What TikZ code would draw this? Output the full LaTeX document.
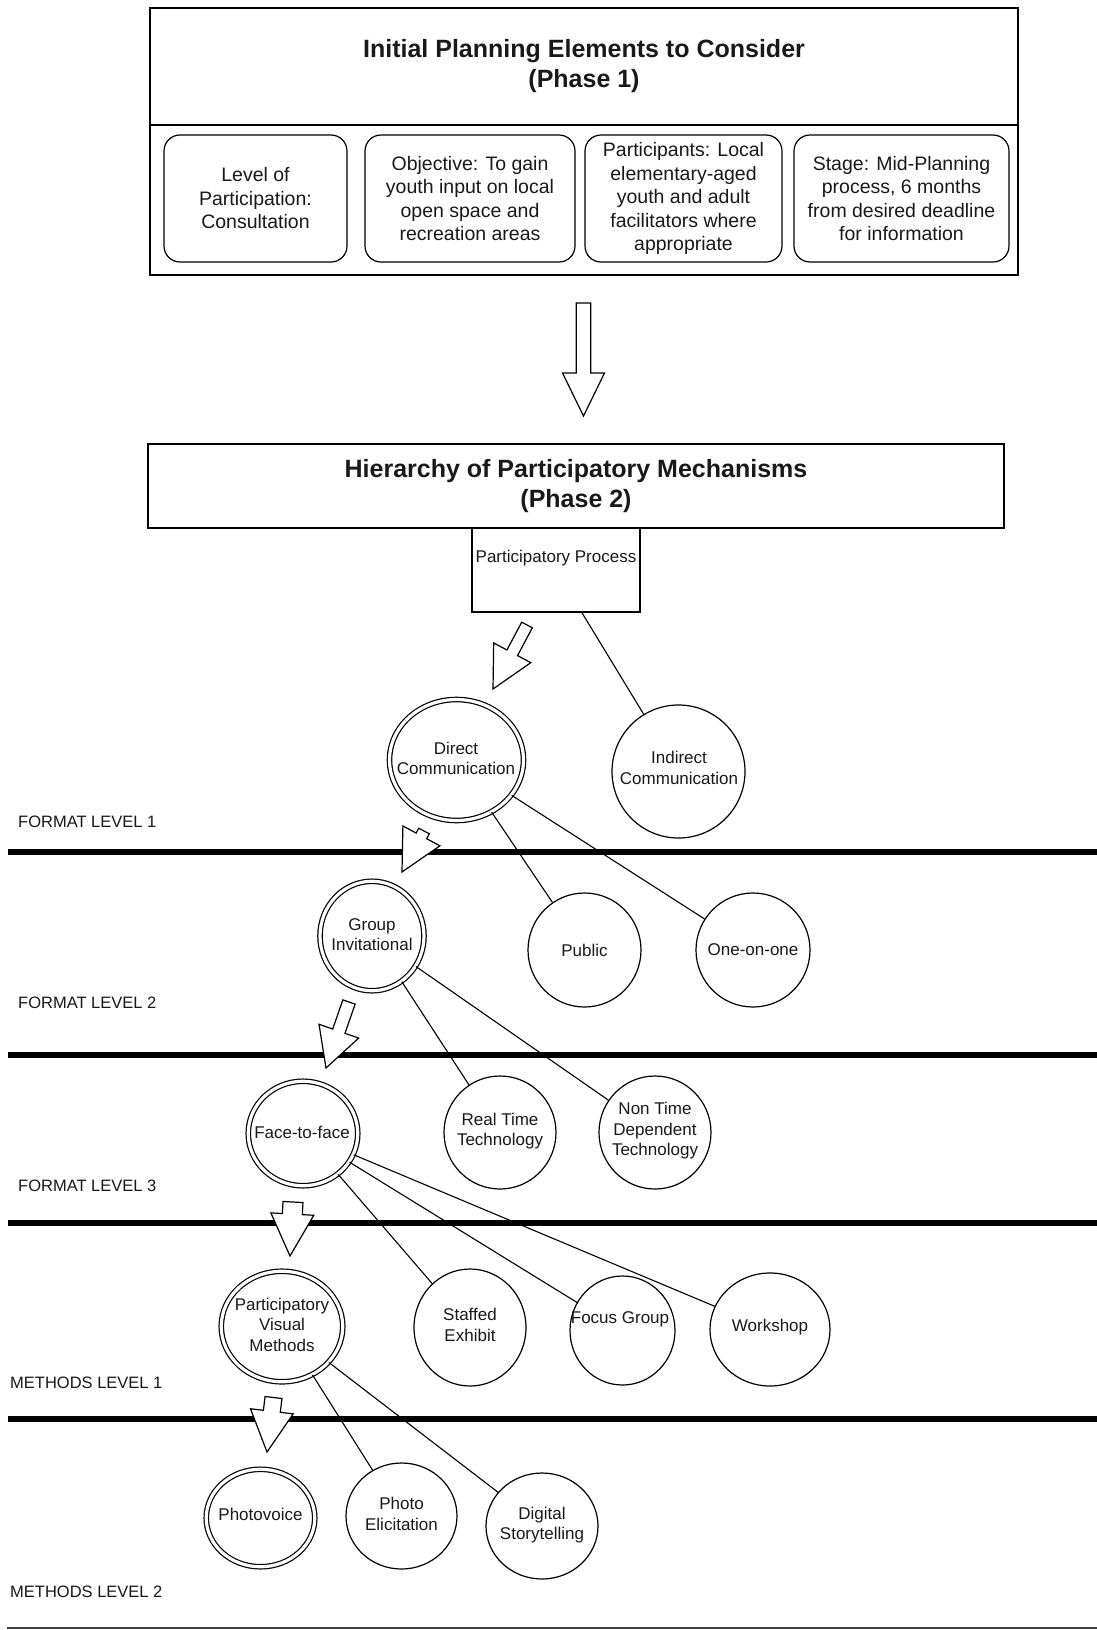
\documentclass[tikz,border=0pt]{standalone}
\usepackage{fontspec}
\setmainfont{Liberation Sans}
\usetikzlibrary{calc,shapes.geometric}

% hollow block arrow: tail, tip, shaft half-width, head half-width, head length
\newcommand{\hollowblockarrow}[5]{%
  \coordinate (hb-base) at ($(#2)!#5!(#1)$);
  \draw[blockarrow]
    ($(#1)!#3!90:(#2)$) -- ($(hb-base)!#3!90:(#2)$) -- ($(hb-base)!#4!90:(#2)$)
    -- (#2) --
    ($(hb-base)!#4!-90:(#2)$) -- ($(hb-base)!#3!-90:(#2)$) -- ($(#1)!#3!-90:(#2)$) -- cycle;
}

\tikzset{
  txt/.style={font=\fontsize{17}{20.5}\selectfont, align=center, inner sep=0pt, text=black!90},
  heading/.style={font=\bfseries\fontsize{25}{30}\selectfont, align=center, text=black!90},
  panel/.style={draw, line width=1.3pt, inner sep=0pt, fill=white},
  itembox/.style={draw, line width=1.2pt, rounded corners=16pt, inner sep=0pt, align=center,
    font=\fontsize{19.5}{23.5}\selectfont, text=black!90},
  bubble/.style={ellipse, draw, line width=1.2pt, fill=white, inner sep=0pt},
  dbubble/.style={bubble, double, double distance=3.2pt},
  link/.style={line width=1.1pt},
  divider/.style={line width=5.5pt},
  baseline rule/.style={line width=2pt, black!75},
  levellabel/.style={anchor=west, inner sep=0pt, font=\fontsize{16.5}{20}\selectfont, text=black!90},
  blockarrow/.style={draw, fill=white, line width=1.2pt, line join=miter},
}

\begin{document}
\begin{tikzpicture}[x=1pt, y=-1pt]
  \fill[white] (0,0) rectangle (1097,1630);
  \useasboundingbox (0,0) rectangle (1097,1630);

  % ---- Phase 1 ----
  \node[panel, heading, minimum width=868pt, minimum height=117pt] (p1head) at (584,66.5)
    {Initial Planning Elements to Consider\\(Phase 1)};
  \node[panel, minimum width=868pt, minimum height=150pt] (p1body) at (584,200) {};
  \node[itembox, minimum width=183pt, minimum height=127pt] (lvl) at (255.5,198.5)
    {Level of\\Participation:\\Consultation};
  \node[itembox, minimum width=210pt, minimum height=127pt] (obj) at (470,198.5)
    {Objective: To gain\\youth input on local\\open space and\\recreation areas};
  \node[itembox, minimum width=197pt, minimum height=127pt] (par) at (683.5,198.5)
    {Participants: Local\\elementary-aged\\youth and adult\\facilitators where\\appropriate};
  \node[itembox, minimum width=215pt, minimum height=127pt] (stg) at (901.5,198.5)
    {Stage: Mid-Planning\\process, 6 months\\from desired deadline\\for information};

  % ---- Phase 2 ----
  \node[panel, heading, minimum width=856pt, minimum height=84pt] (p2head) at (576,486)
    {Hierarchy of Participatory Mechanisms\\(Phase 2)};
  \node[panel, minimum width=168pt, minimum height=84pt] (pp) at (556,570) {};
  \node[txt] (pp-t) at (556,558) {Participatory Process};

  % ---- level dividers and labels ----
  \coordinate (d1a) at (8,852);    \coordinate (d1b) at (1097,852);
  \coordinate (d2a) at (8,1055);   \coordinate (d2b) at (1097,1055);
  \coordinate (d3a) at (8,1223);   \coordinate (d3b) at (1097,1223);
  \coordinate (d4a) at (8,1419);   \coordinate (d4b) at (1097,1419);
  \coordinate (d5a) at (7,1628);   \coordinate (d5b) at (1097,1628);
  \draw[divider] (d1a) -- (d1b);
  \draw[divider] (d2a) -- (d2b);
  \draw[divider] (d3a) -- (d3b);
  \draw[divider] (d4a) -- (d4b);
  \draw[baseline rule] (d5a) -- (d5b);

  \node[levellabel] (fl1) at (18,822) {FORMAT LEVEL 1};
  \node[levellabel] (fl2) at (18,1003) {FORMAT LEVEL 2};
  \node[levellabel] (fl3) at (18,1186) {FORMAT LEVEL 3};
  \node[levellabel] (ml1) at (10,1383) {METHODS LEVEL 1};
  \node[levellabel] (ml2) at (10,1592) {METHODS LEVEL 2};

  % ---- mechanism bubbles ----
  \node[dbubble, minimum width=134pt, minimum height=121pt] (dc) at (456.5,760) {};
  \node[bubble, minimum width=133pt, minimum height=133pt] (ind) at (678.5,771.5) {};
  \node[dbubble, minimum width=104pt, minimum height=109.5pt] (gi) at (372,936) {};
  \node[bubble, minimum width=113pt, minimum height=114pt] (pub) at (584.5,950) {};
  \node[bubble, minimum width=114pt, minimum height=114pt] (one) at (753,950) {};
  \node[dbubble, minimum width=109.5pt, minimum height=104.5pt] (ftf) at (303,1133.5) {};
  \node[bubble, minimum width=112pt, minimum height=113pt] (rt) at (500,1132.5) {};
  \node[bubble, minimum width=112pt, minimum height=113pt] (nt) at (655,1132.5) {};
  \node[dbubble, minimum width=121.5pt, minimum height=110.5pt] (pvm) at (282,1326.5) {};
  \node[bubble, minimum width=112pt, minimum height=117pt] (se) at (470,1327.5) {};
  \node[bubble, minimum width=105pt, minimum height=109pt] (fg) at (622.5,1330.5) {};
  \node[bubble, minimum width=120pt, minimum height=113pt] (ws) at (770,1329.5) {};
  \node[dbubble, minimum width=108.5pt, minimum height=97.5pt] (pv) at (260.5,1518) {};
  \node[bubble, minimum width=111pt, minimum height=106pt] (pe) at (401.5,1516) {};
  \node[bubble, minimum width=112pt, minimum height=106pt] (ds) at (542,1526) {};

  % ---- connectors ----
  \draw[link] (pp) -- (ind);
  \draw[link] (dc) -- (pub);
  \draw[link] (dc) -- (one);
  \draw[link] (gi) -- (rt);
  \draw[link] (gi) -- (nt);
  \draw[link] (ftf) -- (se);
  \draw[link] (ftf) -- (fg);
  \draw[link] (ftf) -- (ws);
  \draw[link] (pvm) -- (pe);
  \draw[link] (pvm) -- (ds);

  % ---- bubble texts ----
  \node[txt] (dc-t) at (456,758.5) {Direct\\Communication};
  \node[txt] (ind-t) at (679,768) {Indirect\\Communication};
  \node[txt] (gi-t) at (372,934.5) {Group\\Invitational};
  \node[txt] (pub-t) at (584.5,950) {Public};
  \node[txt] (one-t) at (753,950) {One-on-one};
  \node[txt] (ftf-t) at (302,1132) {Face-to-face};
  \node[txt] (rt-t) at (500,1131) {Real Time\\Technology};
  \node[txt] (nt-t) at (655,1131) {Non Time\\Dependent\\Technology};
  \node[txt] (pvm-t) at (282,1324.5) {Participatory\\Visual\\Methods};
  \node[txt] (se-t) at (470,1325) {Staffed\\Exhibit};
  \node[txt] (fg-t) at (620,1319) {Focus Group};
  \node[txt] (ws-t) at (770,1327) {Workshop};
  \node[txt] (pv-t) at (260.5,1514) {Photovoice};
  \node[txt] (pe-t) at (401.5,1514) {Photo\\Elicitation};
  \node[txt] (ds-t) at (542,1525) {Digital\\Storytelling};

  % ---- hollow block arrows ----
  \coordinate (a0t) at (583.5,303);  \coordinate (a0h) at (583.5,416);
  \coordinate (a1t) at (527,625);    \coordinate (a1h) at (493,689);
  \coordinate (a2t) at (424,831);    \coordinate (a2h) at (402,872);
  \coordinate (a3t) at (349,1002);   \coordinate (a3h) at (326,1068);
  \coordinate (a4t) at (293,1202);   \coordinate (a4h) at (290,1256);
  \coordinate (a5t) at (273.5,1397.5); \coordinate (a5h) at (267,1452);
  \hollowblockarrow{a0t}{a0h}{7.2pt}{21pt}{43pt}
  \hollowblockarrow{a1t}{a1h}{6pt}{21pt}{41pt}
  \hollowblockarrow{a2t}{a2h}{6pt}{21pt}{41pt}
  \hollowblockarrow{a3t}{a3h}{6.5pt}{21pt}{39pt}
  \hollowblockarrow{a4t}{a4h}{10pt}{21.5pt}{42pt}
  \hollowblockarrow{a5t}{a5h}{8.5pt}{21.5pt}{41pt}
\end{tikzpicture}
\end{document}
